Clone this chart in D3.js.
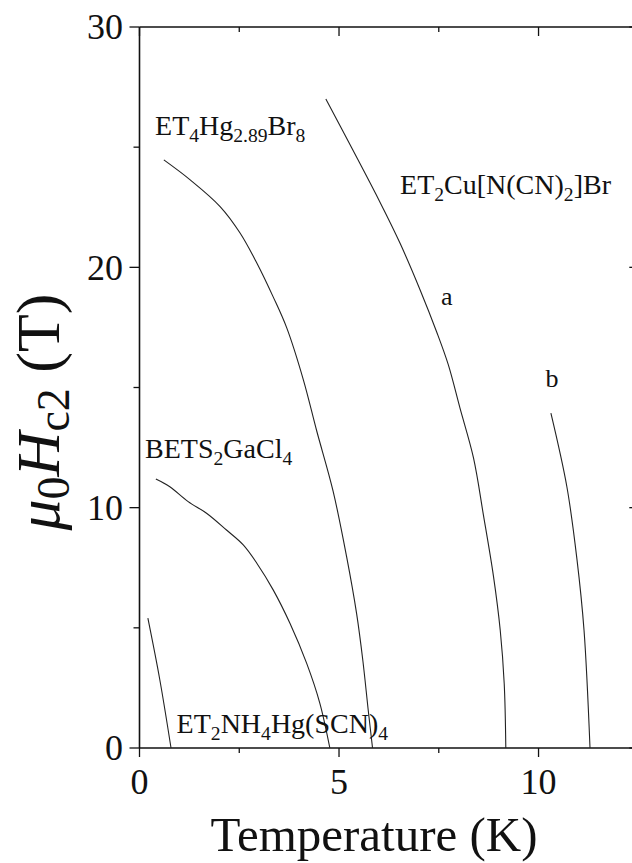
<!DOCTYPE html>
<html lang="en">
<head>
<meta charset="UTF-8">
<title>Hc2 vs T</title>
<script src="https://d3js.org/d3.v7.min.js"></script>
<style>
  body { margin: 0; background: #fff; }
  svg text { font-family: "Liberation Serif", "DejaVu Serif", serif; fill: #111; }
  .axis-line { stroke: #111; stroke-width: 1.6px; fill: none; }
  .tick { stroke: #111; stroke-width: 1.3px; }
  .curve { fill: none; stroke: #222; stroke-width: 1.1px; }
</style>
</head>
<body>
<svg id="chart" width="632" height="863"></svg>
<script>
// values: temperature (K) and upper critical field (T)
var et4hgT = [0.61, 1.27, 2.02, 2.52, 2.94, 3.35, 3.69, 4.11, 4.44, 4.85, 5.19, 5.44, 5.60, 5.73, 5.84];
var et4hgH = [24.47, 23.64, 22.53, 21.43, 20.18, 18.77, 17.48, 15.3, 13.2, 10.7, 7.96, 5.6, 3.6, 1.6, 0];

var betsT = [0.41, 0.76, 1.22, 1.68, 2.18, 2.60, 2.94, 3.35, 3.77, 4.19, 4.52, 4.77];
var betsH = [11.19, 10.87, 10.25, 9.77, 9.07, 8.45, 7.69, 6.58, 5.19, 3.52, 1.86, 0];

var nh4T = [0.21, 0.51, 0.79];
var nh4H = [5.4, 2.83, 0];

var cuaT = [4.67, 6.03, 6.53, 7.03, 7.45, 7.74, 8.03, 8.37, 8.62, 8.87, 9.04, 9.14, 9.18];
var cuaH = [27.0, 22.7, 21.0, 19.07, 17.3, 15.94, 14.15, 12.07, 9.68, 7.15, 4.9, 2.67, 0];

var cubT = [10.31, 10.71, 10.96, 11.14, 11.29];
var cubH = [13.93, 10.87, 7.89, 4.9, 0];

var series = [
  { T: et4hgT, H: et4hgH },
  { T: betsT, H: betsH },
  { T: nh4T, H: nh4H },
  { T: cuaT, H: cuaH },
  { T: cubT, H: cubH }
];

var xTicksMajor = [0, 5, 10];
var xTicksMinor = [2.5, 7.5, 12.5];
var yTicksMajor = [0, 10, 20, 30];
var yTicksMinor = [5, 15, 25];

// text labels: "_" marks a subscript, braces group it
var labels = [
  { text: "ET_4Hg_{2.89}Br_8", T: 0.39, H: 25.5, anchor: "start", size: 28 },
  { text: "ET_2Cu[N(CN)_2]Br", T: 6.53, H: 23.05, anchor: "start", size: 28 },
  { text: "BETS_2GaCl_4", T: 0.14, H: 12.07, anchor: "start", size: 28 },
  { text: "ET_2NH_4Hg(SCN)_4", T: 0.93, H: 0.62, anchor: "start", size: 28 },
  { text: "a", T: 7.7, H: 18.44, anchor: "middle", size: 26 },
  { text: "b", T: 10.34, H: 15.02, anchor: "middle", size: 26 }
];

var svg = d3.select("#chart");

var x = d3.scaleLinear().domain([0, 12.5]).range([139.5, 638.3]);
var y = d3.scaleLinear().domain([0, 30]).range([748, 27]);

function parseSub(str) {
  var parts = [];
  var i = 0;
  var buf = "";
  while (i < str.length) {
    if (str[i] === "_") {
      if (buf) { parts.push({ t: buf, sub: false }); buf = ""; }
      i++;
      if (str[i] === "{") {
        var j = str.indexOf("}", i);
        parts.push({ t: str.slice(i + 1, j), sub: true });
        i = j + 1;
      } else {
        parts.push({ t: str[i], sub: true });
        i++;
      }
    } else {
      buf += str[i];
      i++;
    }
  }
  if (buf) parts.push({ t: buf, sub: false });
  return parts;
}

function writeRich(sel, str, size) {
  var parts = parseSub(str);
  var down = false;
  parts.forEach(function(p) {
    var ts = sel.append("tspan").text(p.t);
    if (p.sub && !down) { ts.attr("dy", size * 0.25).attr("font-size", size * 0.7); down = true; }
    else if (p.sub) { ts.attr("font-size", size * 0.7); }
    else if (!p.sub && down) { ts.attr("dy", -size * 0.25); down = false; }
  });
}

// axes frame
var x0 = x(0), x1 = x(12.5), y0 = y(0), y1 = y(30);
svg.append("line").attr("class", "axis-line").attr("x1", x0).attr("x2", x0).attr("y1", y1).attr("y2", y0);
svg.append("line").attr("class", "axis-line").attr("x1", x0).attr("x2", x1).attr("y1", y0).attr("y2", y0);
svg.append("line").attr("class", "axis-line").attr("x1", x0).attr("x2", x1).attr("y1", y1).attr("y2", y1);
svg.append("line").attr("class", "axis-line").attr("x1", x1).attr("x2", x1).attr("y1", y1).attr("y2", y0);

// bottom ticks outward, top ticks inward
xTicksMajor.forEach(function(v) {
  svg.append("line").attr("class", "tick").attr("x1", x(v)).attr("x2", x(v)).attr("y1", y0).attr("y2", y0 + 9);
  svg.append("line").attr("class", "tick").attr("x1", x(v)).attr("x2", x(v)).attr("y1", y1).attr("y2", y1 + 9);
  svg.append("text").attr("x", x(v)).attr("y", 794).attr("text-anchor", "middle").attr("font-size", 36).text(v);
});
xTicksMinor.forEach(function(v) {
  svg.append("line").attr("class", "tick").attr("x1", x(v)).attr("x2", x(v)).attr("y1", y0).attr("y2", y0 + 5);
  svg.append("line").attr("class", "tick").attr("x1", x(v)).attr("x2", x(v)).attr("y1", y1).attr("y2", y1 + 5);
});

// left ticks outward, right ticks inward
yTicksMajor.forEach(function(v) {
  svg.append("line").attr("class", "tick").attr("x1", x0 - 10).attr("x2", x0).attr("y1", y(v)).attr("y2", y(v));
  svg.append("line").attr("class", "tick").attr("x1", x1 - 9).attr("x2", x1).attr("y1", y(v)).attr("y2", y(v));
  svg.append("text").attr("x", 123).attr("y", y(v)).attr("dy", "0.34em").attr("text-anchor", "end").attr("font-size", 36).text(v);
});
yTicksMinor.forEach(function(v) {
  svg.append("line").attr("class", "tick").attr("x1", x0 - 6).attr("x2", x0).attr("y1", y(v)).attr("y2", y(v));
  svg.append("line").attr("class", "tick").attr("x1", x1 - 5).attr("x2", x1).attr("y1", y(v)).attr("y2", y(v));
});

// curves
var line = d3.line()
  .x(function(d) { return x(d[0]); })
  .y(function(d) { return y(d[1]); })
  .curve(d3.curveCatmullRom.alpha(0.5));

svg.selectAll("path.curve")
  .data(series)
  .enter().append("path")
  .attr("class", "curve")
  .attr("d", function(s) { return line(d3.zip(s.T, s.H)); });

// curve labels
labels.forEach(function(l) {
  var t = svg.append("text")
    .attr("x", x(l.T)).attr("y", y(l.H))
    .attr("text-anchor", l.anchor)
    .attr("font-size", l.size);
  writeRich(t, l.text, l.size);
});

// axis titles
svg.append("text").attr("x", 374).attr("y", 851).attr("text-anchor", "middle").attr("font-size", 49).text("Temperature (K)");

var yt = svg.append("text")
  .attr("transform", "translate(59,412) rotate(-90)")
  .attr("text-anchor", "middle")
  .attr("font-size", 62);
yt.append("tspan").attr("font-style", "italic").text("\u03bc");
yt.append("tspan").attr("font-size", 46).attr("dy", 10).text("0");
yt.append("tspan").attr("font-style", "italic").attr("dy", -10).text("H");
yt.append("tspan").attr("font-size", 46).attr("dy", 10).text("c2");
yt.append("tspan").attr("dy", -10).text(" (T)");
</script>
</body>
</html>
